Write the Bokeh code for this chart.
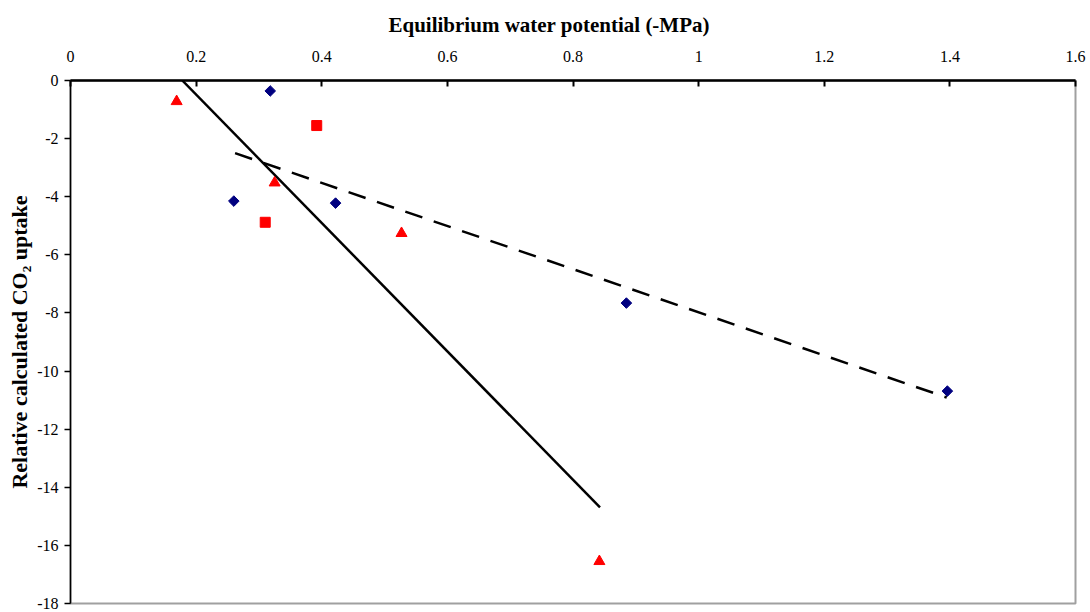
from bokeh.plotting import figure
from bokeh.models import Range1d, FixedTicker
from bokeh.embed import file_html
from bokeh.resources import INLINE
import math

# ---- data ----
diamond_x = [0.318, 0.260, 0.422, 0.885, 1.396]
diamond_y = [-0.36, -4.15, -4.22, -7.66, -10.69]

triangle_x = [0.169, 0.325, 0.527, 0.842]
triangle_y = [-0.72, -3.52, -5.26, -16.55]

square_x = [0.392, 0.310]
square_y = [-1.55, -4.88]

solid_trend_x = [0.178, 0.843]
solid_trend_y = [0.0, -14.69]

dashed_trend_x = [0.262, 1.395]
dashed_trend_y = [-2.50, -10.91]

x_ticks = [0, 0.2, 0.4, 0.6, 0.8, 1.0, 1.2, 1.4, 1.6]
x_tick_labels = ["0", "0.2", "0.4", "0.6", "0.8", "1", "1.2", "1.4", "1.6"]
y_ticks = [0, -2, -4, -6, -8, -10, -12, -14, -16, -18]
y_tick_labels = ["0", "-2", "-4", "-6", "-8", "-10", "-12", "-14", "-16", "-18"]

x_title = "Equilibrium water potential (-MPa)"
y_title = "Relative calculated CO\u2082 uptake"

FONT = "Liberation Serif"

p = figure(width=1090, height=612, output_backend="svg", toolbar_location=None,
           x_axis_location="above", title_location="above",
           x_range=Range1d(0, 1.6), y_range=Range1d(-18, 0),
           min_border_left=70, min_border_right=15, min_border_top=80, min_border_bottom=9)

p.background_fill_color = "white"
p.border_fill_color = "white"
p.outline_line_color = "#a0a0a0"
p.outline_line_width = 2
p.xgrid.visible = False
p.ygrid.visible = False

# trend lines
p.line(solid_trend_x, solid_trend_y, line_color="black", line_width=2.5)
p.line(dashed_trend_x, dashed_trend_y, line_color="black", line_width=2.5, line_dash="18 12")

# markers
p.scatter(diamond_x, diamond_y, marker="square", size=7.5, angle=math.pi / 4,
          fill_color="#000080", line_color="#000080")
p.scatter(triangle_x, triangle_y, marker="triangle", size=11,
          fill_color="#ff0000", line_color="#ff0000")
p.scatter(square_x, square_y, marker="square", size=10,
          fill_color="#ff0000", line_color="#ff0000")

# x axis (top)
xa = p.xaxis[0]
xa.ticker = FixedTicker(ticks=x_ticks)
xa.major_label_overrides = {t: l for t, l in zip(x_ticks, x_tick_labels)}
xa.minor_tick_line_color = None
xa.major_tick_in = 6
xa.major_tick_out = 0
xa.major_tick_line_width = 2
xa.axis_line_width = 2.5
xa.axis_line_color = "black"
xa.major_label_standoff = 19
xa.major_label_text_font = FONT
xa.major_label_text_font_size = "16px"
xa.major_label_text_color = "black"

# x title drawn as the figure title above the axis, placed like the reference
p.title.text = x_title
p.title.align = "left"
p.title.offset = 318
p.title.standoff = 21
p.title.text_font = FONT
p.title.text_font_size = "21px"
p.title.text_font_style = "bold"
p.title.text_color = "black"

# y axis (left)
ya = p.yaxis[0]
ya.ticker = FixedTicker(ticks=y_ticks)
ya.major_label_overrides = {t: l for t, l in zip(y_ticks, y_tick_labels)}
ya.minor_tick_line_color = None
ya.major_tick_in = 0
ya.major_tick_out = 6
ya.major_tick_line_width = 1.5
ya.axis_line_width = 1.5
ya.axis_line_color = "black"
ya.major_label_standoff = 6
ya.major_label_text_font = FONT
ya.major_label_text_font_size = "16px"
ya.major_label_text_color = "black"
ya.axis_label = y_title
ya.axis_label_text_font = FONT
ya.axis_label_text_font_size = "22px"
ya.axis_label_text_font_style = "bold"
ya.axis_label_text_color = "black"
ya.axis_label_standoff = 2

open("out.html", "w").write(file_html(p, INLINE))
